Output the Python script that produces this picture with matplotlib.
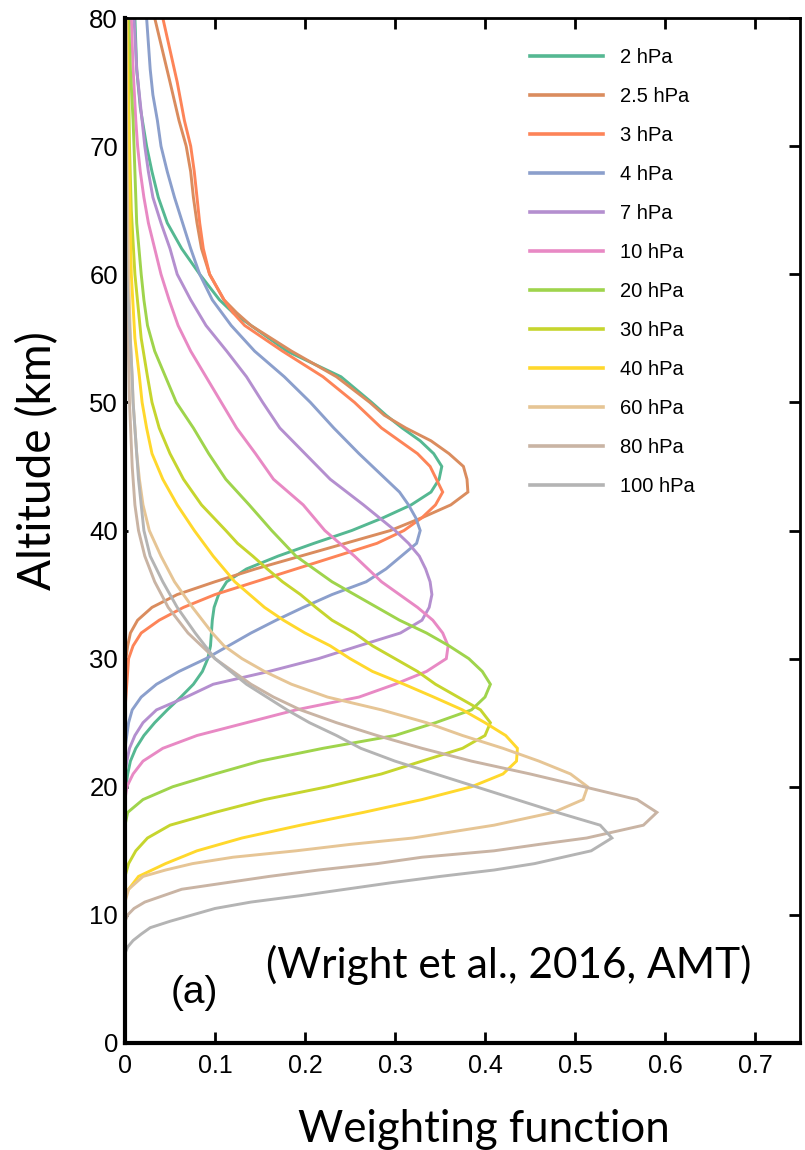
import matplotlib
matplotlib.use("Agg")
import matplotlib.pyplot as plt

# weighting function profiles (altitude in km, weight)
alt_2 = [80, 76, 73, 70, 68, 66, 64, 62, 60, 58, 57, 56, 54, 52, 50, 49, 48, 47, 46, 45, 44, 43, 42, 41, 40,
         39, 38, 37, 36, 35, 34, 33, 32, 31, 30, 29, 28, 27, 26, 25, 24, 23, 22, 21, 20, 19]
wf_2 = [0.011, 0.013, 0.017, 0.024, 0.030, 0.037, 0.047, 0.063, 0.083, 0.105, 0.120, 0.140, 0.180, 0.240, 0.274,
        0.290, 0.308, 0.328, 0.343, 0.352, 0.349, 0.340, 0.318, 0.287, 0.252, 0.210, 0.170, 0.135, 0.113, 0.104,
        0.099, 0.097, 0.096, 0.095, 0.092, 0.086, 0.076, 0.062, 0.047, 0.033, 0.021, 0.012, 0.006, 0.003, 0.001, 0.0]

alt_25 = [80, 75, 72, 70, 68, 66, 64, 62, 60, 58, 57, 56, 54, 52, 50, 49, 48, 47, 46, 45, 44, 43, 42, 41, 40,
          39, 38, 37, 36, 35, 34, 33, 32, 31, 30, 29]
wf_25 = [0.033, 0.050, 0.060, 0.068, 0.073, 0.076, 0.080, 0.085, 0.094, 0.110, 0.124, 0.140, 0.185, 0.235, 0.272,
         0.288, 0.312, 0.340, 0.360, 0.376, 0.380, 0.381, 0.362, 0.330, 0.295, 0.245, 0.195, 0.145, 0.100, 0.058,
         0.030, 0.014, 0.006, 0.003, 0.001, 0.0]

alt_3 = [80, 75, 72, 70, 68, 66, 64, 62, 60, 58, 57, 56, 54, 52, 50, 48, 47, 46, 45, 44, 43, 42, 41, 40,
         39, 38, 37, 36, 35, 34, 33, 32, 31, 30, 29, 28, 27, 26]
wf_3 = [0.042, 0.058, 0.066, 0.073, 0.077, 0.080, 0.083, 0.087, 0.094, 0.110, 0.120, 0.133, 0.175, 0.220, 0.255,
        0.285, 0.305, 0.325, 0.339, 0.346, 0.353, 0.345, 0.330, 0.310, 0.280, 0.235, 0.190, 0.145, 0.100, 0.065,
        0.038, 0.018, 0.009, 0.004, 0.003, 0.002, 0.001, 0.0]

alt_4 = [80, 78, 76, 74, 72, 70, 68, 66, 64, 62, 60, 58, 56, 54, 52, 50, 48, 46, 44, 43, 42, 41, 40,
         39, 38, 37, 36, 35, 34, 33, 32, 31, 30, 29, 28, 27, 26, 25, 24, 23]
wf_4 = [0.024, 0.026, 0.028, 0.031, 0.036, 0.040, 0.047, 0.055, 0.064, 0.073, 0.083, 0.097, 0.118, 0.144, 0.177,
        0.206, 0.232, 0.260, 0.290, 0.305, 0.315, 0.323, 0.328, 0.324, 0.307, 0.290, 0.268, 0.230, 0.198, 0.168,
        0.140, 0.115, 0.090, 0.060, 0.035, 0.018, 0.008, 0.004, 0.002, 0.0]

alt_7 = [80, 76, 72, 70, 68, 66, 64, 62, 60, 58, 56, 54, 52, 50, 48, 46, 44, 42, 40, 39, 38, 37, 36, 35,
         34, 33, 32, 31, 30, 29, 28, 27, 26, 25, 24, 23, 22, 21]
wf_7 = [0.010, 0.013, 0.019, 0.022, 0.026, 0.031, 0.040, 0.050, 0.058, 0.073, 0.090, 0.113, 0.135, 0.153, 0.172,
        0.200, 0.228, 0.265, 0.300, 0.315, 0.327, 0.334, 0.339, 0.341, 0.338, 0.330, 0.306, 0.260, 0.215, 0.160,
        0.098, 0.068, 0.035, 0.020, 0.011, 0.005, 0.002, 0.0]

alt_10 = [80, 76, 72, 70, 68, 66, 64, 62, 60, 58, 56, 54, 52, 50, 48, 46, 44, 42, 40, 38, 36, 35, 34, 33,
          32, 31, 30, 29, 28, 27, 26, 25, 24, 23, 22, 21, 20, 19]
wf_10 = [0.007, 0.009, 0.012, 0.014, 0.017, 0.021, 0.026, 0.033, 0.040, 0.049, 0.059, 0.073, 0.090, 0.107, 0.124,
         0.145, 0.165, 0.198, 0.222, 0.255, 0.285, 0.305, 0.325, 0.342, 0.353, 0.359, 0.357, 0.335, 0.300, 0.260,
         0.190, 0.135, 0.080, 0.042, 0.020, 0.009, 0.002, 0.0]

alt_20 = [80, 76, 72, 68, 64, 60, 58, 56, 54, 52, 50, 48, 46, 44, 42, 40, 38, 36, 35, 34, 33, 32, 31, 30,
          29, 28, 27, 26, 25, 24, 23, 22, 21, 20, 19, 18, 17]
wf_20 = [0.004, 0.006, 0.009, 0.011, 0.013, 0.018, 0.021, 0.025, 0.033, 0.045, 0.057, 0.076, 0.093, 0.112, 0.138,
         0.163, 0.190, 0.230, 0.255, 0.280, 0.305, 0.335, 0.360, 0.382, 0.397, 0.406, 0.400, 0.385, 0.345, 0.300,
         0.220, 0.150, 0.100, 0.053, 0.020, 0.003, 0.0]

alt_30 = [80, 70, 65, 60, 55, 52, 50, 48, 46, 44, 42, 40, 39, 38, 37, 36, 35, 34, 33, 32, 31, 30, 29, 28,
          27, 26, 25, 24, 23, 22, 21, 20, 19, 18, 17, 16, 15, 14, 13]
wf_30 = [0.003, 0.005, 0.007, 0.011, 0.018, 0.025, 0.030, 0.038, 0.050, 0.065, 0.085, 0.112, 0.125, 0.142, 0.158,
         0.175, 0.195, 0.212, 0.230, 0.255, 0.275, 0.300, 0.325, 0.345, 0.370, 0.395, 0.406, 0.400, 0.375, 0.330,
         0.285, 0.225, 0.155, 0.100, 0.050, 0.025, 0.012, 0.004, 0.0]

alt_40 = [80, 70, 60, 55, 52, 50, 48, 46, 44, 42, 40, 38, 36, 34, 33, 32, 31, 30, 29, 28, 27, 26, 25, 24,
          23, 22, 21, 20, 19, 18, 17, 16, 15, 14, 13, 12, 11.5]
wf_40 = [0.002, 0.004, 0.007, 0.011, 0.016, 0.019, 0.024, 0.030, 0.042, 0.058, 0.077, 0.098, 0.122, 0.155, 0.176,
         0.200, 0.228, 0.250, 0.275, 0.310, 0.343, 0.375, 0.400, 0.423, 0.436, 0.435, 0.420, 0.385, 0.330, 0.265,
         0.195, 0.130, 0.080, 0.045, 0.015, 0.004, 0.0]

alt_60 = [80, 70, 60, 55, 50, 46, 44, 42, 40, 38, 36, 34, 32, 31, 30, 29, 28, 27, 26, 25, 24, 23, 22, 21,
          20, 19, 18, 17, 16, 15.5, 15, 14.5, 14, 13.5, 13, 12, 11]
wf_60 = [0.001, 0.002, 0.004, 0.006, 0.009, 0.013, 0.016, 0.020, 0.027, 0.040, 0.055, 0.075, 0.097, 0.110, 0.130,
         0.155, 0.185, 0.225, 0.285, 0.335, 0.375, 0.420, 0.460, 0.495, 0.514, 0.509, 0.476, 0.410, 0.320, 0.250,
         0.190, 0.120, 0.075, 0.045, 0.020, 0.004, 0.0]

alt_80 = [80, 60, 50, 45, 42, 40, 38, 36, 34, 32, 30, 28, 27, 26, 25, 24, 23, 22, 21, 20, 19, 18, 17, 16,
          15.5, 15, 14.5, 14, 13.5, 13, 12, 11, 10.5, 10, 9.5]
wf_80 = [0.001, 0.002, 0.005, 0.008, 0.011, 0.015, 0.022, 0.033, 0.048, 0.070, 0.100, 0.140, 0.165, 0.195, 0.235,
         0.280, 0.330, 0.385, 0.450, 0.510, 0.569, 0.591, 0.576, 0.513, 0.460, 0.410, 0.330, 0.280, 0.215, 0.160,
         0.063, 0.022, 0.010, 0.003, 0.0]

alt_100 = [80, 60, 52, 50, 46, 44, 42, 40, 38, 36, 34, 32, 30, 28, 26, 25, 24, 23, 22, 21, 20, 19, 18, 17,
           16, 15, 14, 13.5, 13, 12.5, 12, 11.5, 11, 10.5, 10, 9.5, 9, 8.5, 8, 7.5, 7]
wf_100 = [0.0, 0.002, 0.008, 0.009, 0.013, 0.015, 0.018, 0.021, 0.028, 0.042, 0.058, 0.078, 0.100, 0.135, 0.180,
          0.205, 0.235, 0.262, 0.300, 0.345, 0.390, 0.435, 0.480, 0.528, 0.541, 0.518, 0.455, 0.410, 0.350, 0.295,
          0.245, 0.195, 0.140, 0.100, 0.075, 0.050, 0.028, 0.018, 0.009, 0.003, 0.0]

labels = ['2 hPa', '2.5 hPa', '3 hPa', '4 hPa', '7 hPa', '10 hPa',
          '20 hPa', '30 hPa', '40 hPa', '60 hPa', '80 hPa', '100 hPa']
colors = ['#55b892', '#da8c5e', '#fd8458', '#8b9fcc', '#b48fcf', '#e889c4',
          '#9fd44c', '#c6d52e', '#ffd82c', '#e6c595', '#c9b4a4', '#b4b4b4']

profiles = [(alt_2, wf_2), (alt_25, wf_25), (alt_3, wf_3), (alt_4, wf_4), (alt_7, wf_7), (alt_10, wf_10),
            (alt_20, wf_20), (alt_30, wf_30), (alt_40, wf_40), (alt_60, wf_60), (alt_80, wf_80), (alt_100, wf_100)]

fig = plt.figure(figsize=(8.05, 11.5), dpi=100)
ax = fig.add_axes([125 / 805, 1 - 1043 / 1150, 675 / 805, 1025 / 1150])

for (alt, wf), lab, col in zip(profiles, labels, colors):
    ax.plot(wf, alt, color=col, lw=2.1, label=lab, solid_joinstyle='miter')

ax.set_xlim(0, 0.75)
ax.set_ylim(0, 80)
ax.set_xticks([0, 0.1, 0.2, 0.3, 0.4, 0.5, 0.6, 0.7])
ax.set_xticklabels(['0', '0.1', '0.2', '0.3', '0.4', '0.5', '0.6', '0.7'])
ax.set_yticks(range(0, 81, 10))

for side in ['left', 'bottom']:
    ax.spines[side].set_linewidth(3)
for side in ['top', 'right']:
    ax.spines[side].set_linewidth(2)

ax.tick_params(axis='x', direction='in', top=True, length=8, width=2, pad=8,
               labelsize=18, labelfontfamily='Liberation Sans')
ax.tick_params(axis='y', direction='in', right=True, length=8, width=2, pad=5,
               labelsize=18.5, labelfontfamily='Liberation Sans')
for t in ax.yaxis.get_major_ticks():
    t.tick1line.set_markersize(2)

ax.set_ylabel('Altitude (km)', fontsize=33, family='Lato')
ax.yaxis.set_label_coords(-0.097, 0.568)
ax.set_xlabel('Weighting function', fontsize=31.5, family='Lato')
ax.xaxis.set_label_coords(0.532, -0.064)

ax.text(0.426, 6.1, '(Wright et al., 2016, AMT)', fontsize=30.5, family='Lato',
        ha='center', va='center')
ax.text(0.077, 3.9, '(a)', fontsize=28, family='Liberation Sans', ha='center', va='center')

leg = ax.legend(loc='upper left', bbox_to_anchor=(0.6, 0.9707), frameon=False,
                prop={'family': 'Liberation Sans', 'size': 14.5}, handlelength=3.6,
                handletextpad=0.85, labelspacing=0.995, borderpad=0, borderaxespad=0)
for line in leg.get_lines():
    line.set_linewidth(2.6)

fig.savefig('out.png', dpi=100)
